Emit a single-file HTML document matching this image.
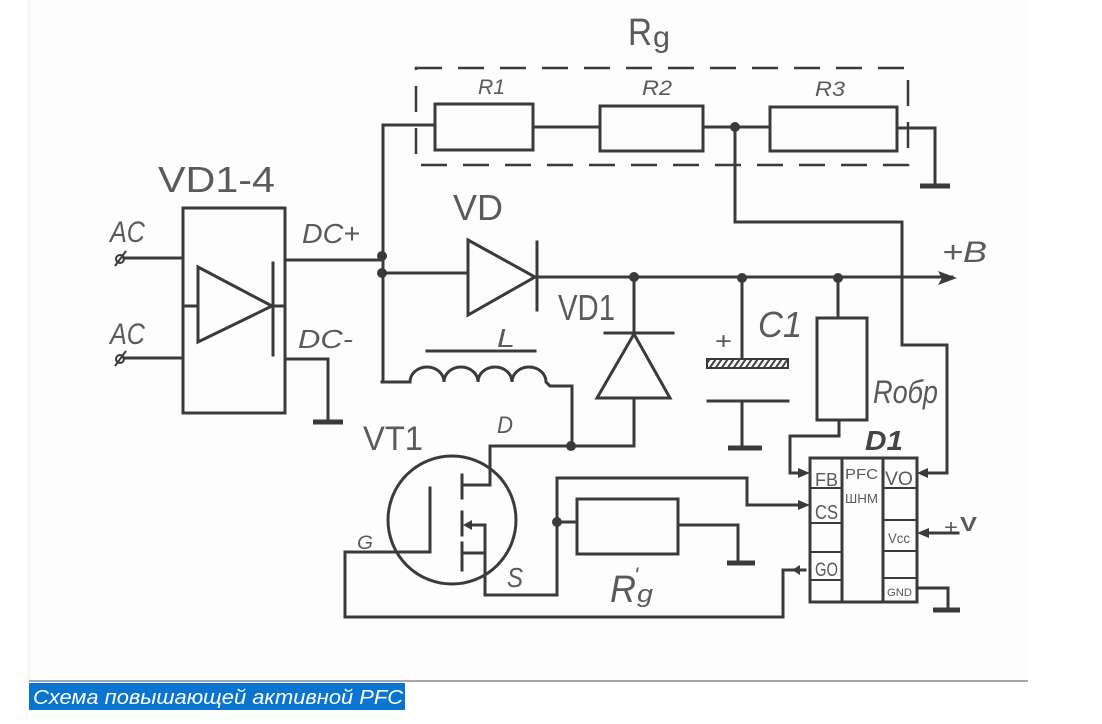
<!DOCTYPE html>
<html><head><meta charset="utf-8"><style>
html,body{margin:0;padding:0;background:#fff;}
svg{display:block;}
.w{fill:none;stroke:#3a3a3a;stroke-width:3;stroke-linejoin:miter;stroke-linecap:square;}
.t{font-family:"Liberation Sans","DejaVu Sans",sans-serif;fill:#5a5a5a;}
.g{stroke:#3a3a3a;stroke-width:5;}
</style></head><body>
<svg width="1102" height="724" viewBox="0 0 1102 724" xmlns="http://www.w3.org/2000/svg">
<defs>
<pattern id="hatch" patternUnits="userSpaceOnUse" width="6" height="10" patternTransform="skewX(-35)">
<rect width="6" height="10" fill="#fff"/><rect width="2.5" height="10" fill="#444"/>
</pattern>
</defs>
<rect x="29" y="0" width="999" height="681" fill="#fdfdfd"/>
<line x1="29" y1="0" x2="29" y2="681" stroke="#eeeeee" stroke-width="1"/>
<line x1="29" y1="681" x2="1028" y2="681" stroke="#8a8a8a" stroke-width="1.5"/>

<!-- Rg dashed group -->
<rect x="416" y="68" width="492" height="97" fill="none" stroke="#3a3a3a" stroke-width="2.5" stroke-dasharray="26 16"/>
<text class="t" x="628" y="45" font-size="38" textLength="24" lengthAdjust="spacingAndGlyphs">R</text>
<text class="t" x="653" y="47" font-size="30" textLength="17" lengthAdjust="spacingAndGlyphs">g</text>
<text class="t" x="478" y="94" font-size="21" textLength="27" lengthAdjust="spacingAndGlyphs" font-style="italic">R1</text>
<text class="t" x="642" y="95" font-size="21" textLength="30" lengthAdjust="spacingAndGlyphs" font-style="italic">R2</text>
<text class="t" x="815" y="96" font-size="21" textLength="30" lengthAdjust="spacingAndGlyphs" font-style="italic">R3</text>

<path class="w" d="M383 382 V125 H435"/>
<rect class="w" x="435" y="104" width="98" height="46"/>
<path class="w" d="M533 127 H600"/>
<rect class="w" x="600" y="106" width="103" height="45"/>
<path class="w" d="M703 127 H770"/>
<rect class="w" x="770" y="107" width="127" height="44"/>
<path class="w" d="M897 128 H935 V185"/>
<line class="g" x1="920" y1="186" x2="950" y2="186"/>
<circle cx="735" cy="127" r="5" fill="#3a3a3a"/>
<path class="w" d="M735 127 V222 H902 V345 H947 V473 H925"/>
<polygon points="917,473 928,468 928,478" fill="#3a3a3a"/>

<!-- bridge -->
<text class="t" x="158" y="192" font-size="36" textLength="117" lengthAdjust="spacingAndGlyphs">VD1-4</text>
<rect class="w" x="183" y="208" width="102" height="205"/>
<path class="w" d="M198 267 L272 306 L198 342 Z"/>
<path class="w" d="M273 263 V355 M183 306 H198 M273 306 H285"/>
<text class="t" x="110" y="242" font-size="30" textLength="35" lengthAdjust="spacingAndGlyphs" font-style="italic">AC</text>
<text class="t" x="110" y="344" font-size="30" textLength="35" lengthAdjust="spacingAndGlyphs" font-style="italic">AC</text>
<circle cx="120" cy="259" r="4" fill="none" stroke="#3a3a3a" stroke-width="2"/>
<line x1="115" y1="266" x2="126" y2="251" stroke="#3a3a3a" stroke-width="2"/>
<circle cx="120" cy="359" r="4" fill="none" stroke="#3a3a3a" stroke-width="2"/>
<line x1="115" y1="366" x2="126" y2="351" stroke="#3a3a3a" stroke-width="2"/>
<path class="w" d="M124 258 H183 M124 358 H183"/>
<text class="t" x="302" y="243" font-size="28" textLength="58" lengthAdjust="spacingAndGlyphs" font-style="italic">DC+</text>
<text class="t" x="298" y="348" font-size="26" textLength="55" lengthAdjust="spacingAndGlyphs" font-style="italic">DC-</text>
<path class="w" d="M285 260 H382"/>
<path class="w" d="M285 359 H328 V420"/>
<line class="g" x1="313" y1="422" x2="343" y2="422"/>
<circle cx="382" cy="256" r="5" fill="#3a3a3a"/>
<circle cx="382" cy="273" r="5" fill="#3a3a3a"/>

<!-- VD -->
<text class="t" x="453" y="220" font-size="36" textLength="50" lengthAdjust="spacingAndGlyphs">VD</text>
<path class="w" d="M382 273 H468"/>
<path class="w" d="M468 240 L535 277 L468 315 Z"/>
<path class="w" d="M537 242 V310"/>
<path class="w" d="M537 277 H952"/>
<polygon points="957,278 938,271 942,278 938,285" fill="#3a3a3a"/>
<text class="t" x="942" y="262" font-size="30" textLength="45" lengthAdjust="spacingAndGlyphs" font-style="italic">+B</text>
<circle cx="634" cy="277" r="5" fill="#3a3a3a"/>
<circle cx="742" cy="278" r="5" fill="#3a3a3a"/>
<circle cx="838" cy="278" r="5" fill="#3a3a3a"/>

<!-- VD1 -->
<text class="t" x="558" y="320" font-size="36" textLength="57" lengthAdjust="spacingAndGlyphs">VD1</text>
<path class="w" d="M634 277 V333 M605 333 H673"/>
<path class="w" d="M634 334 L597 398 L670 398 Z"/>
<path class="w" d="M634 398 V446 H490 V485 H463"/>
<circle cx="571" cy="446" r="5" fill="#3a3a3a"/>

<!-- L -->
<text class="t" x="497" y="347" font-size="26" textLength="18" lengthAdjust="spacingAndGlyphs" font-style="italic">L</text>
<path class="w" d="M427 351 H535"/>
<path class="w" d="M382 382 H410 A17 15 0 0 1 444 382 A17 15 0 0 1 478 382 A17 15 0 0 1 512 382 A17 15 0 0 1 546 382 L550 386 H572 V446"/>

<!-- VT1 -->
<text class="t" x="363" y="450" font-size="34" textLength="60" lengthAdjust="spacingAndGlyphs">VT1</text>
<text class="t" x="497" y="433" font-size="24" textLength="16" lengthAdjust="spacingAndGlyphs" font-style="italic">D</text>
<circle cx="452" cy="520" r="64" fill="none" stroke="#3a3a3a" stroke-width="3"/>
<path class="w" d="M430 488 V552 H345 V617 H783 V570 H805"/>
<polygon points="792,570 800,565 800,575" fill="#3a3a3a"/>
<text class="t" x="357" y="549" font-size="19" textLength="16" lengthAdjust="spacingAndGlyphs" font-style="italic">G</text>
<path class="w" d="M462 475 V498 M462 512 V535 M462 543 V570"/>
<path class="w" d="M470 525 H485 V553 H462"/>
<polygon points="463,525 472,520 472,530" fill="#3a3a3a"/>
<path class="w" d="M485 553 V595 H557 V478 H747 V505 H800"/>
<polygon points="810,505 798,500 798,510" fill="#3a3a3a"/>
<text class="t" x="507" y="587" font-size="28" textLength="16" lengthAdjust="spacingAndGlyphs" font-style="italic">S</text>
<circle cx="557" cy="522" r="5" fill="#3a3a3a"/>

<!-- R'g -->
<path class="w" d="M557 522 H577"/>
<rect class="w" x="577" y="499" width="101" height="55"/>
<path class="w" d="M678 525 H738 V563"/>
<line class="g" x1="727" y1="563" x2="755" y2="563"/>
<text class="t" x="610" y="602" font-size="38" textLength="26" lengthAdjust="spacingAndGlyphs" font-style="italic">R</text>
<text class="t" x="634" y="583" font-size="22" font-style="italic">'</text>
<text class="t" x="637" y="602" font-size="24" textLength="16" lengthAdjust="spacingAndGlyphs" font-style="italic">g</text>

<!-- C1 -->
<path class="w" d="M742 278 V359"/>
<rect x="707" y="359" width="81" height="9" fill="url(#hatch)" stroke="#3a3a3a" stroke-width="2"/>
<path class="w" d="M708 401 H788 M742 401 V448"/>
<line class="g" x1="728" y1="448" x2="762" y2="448"/>
<text class="t" x="715" y="349" font-size="24" textLength="17" lengthAdjust="spacingAndGlyphs">+</text>
<text class="t" x="758" y="337" font-size="36" textLength="44" lengthAdjust="spacingAndGlyphs" font-style="italic">C1</text>

<!-- Robr -->
<path class="w" d="M838 278 V318"/>
<rect class="w" x="817" y="318" width="50" height="102"/>
<path class="w" d="M839 420 V436 H790 V473 H800"/>
<polygon points="810,473 798,468 798,478" fill="#3a3a3a"/>
<text class="t" x="873" y="403" font-size="32" textLength="65" lengthAdjust="spacingAndGlyphs" font-style="italic">Rобр</text>

<!-- D1 -->
<text x="865" y="450" font-family="Liberation Sans, sans-serif" font-size="28" font-weight="bold" font-style="italic" fill="#444" textLength="38" lengthAdjust="spacingAndGlyphs">D1</text>
<rect class="w" x="810" y="458" width="107" height="144"/>
<path class="w" d="M842 458 V602 M883 458 V602"/>
<path d="M810 488 H842 M810 523 H842 M810 552 H842 M810 580 H842 M883 488 H917 M883 520 H917 M883 551 H917 M883 578 H917" stroke="#3a3a3a" stroke-width="2" fill="none"/>
<text class="t" x="815" y="486" font-size="18" textLength="23" lengthAdjust="spacingAndGlyphs">FB</text>
<text class="t" x="815" y="519" font-size="20" textLength="23" lengthAdjust="spacingAndGlyphs">CS</text>
<text class="t" x="815" y="576" font-size="19" textLength="23" lengthAdjust="spacingAndGlyphs">GO</text>
<text class="t" x="845" y="479" font-size="15" textLength="33" lengthAdjust="spacingAndGlyphs">PFC</text>
<text class="t" x="845" y="503" font-size="13" textLength="33" lengthAdjust="spacingAndGlyphs">ШНМ</text>
<text class="t" x="885" y="485" font-size="19" textLength="28" lengthAdjust="spacingAndGlyphs">VO</text>
<text class="t" x="888" y="543" font-size="14" textLength="22" lengthAdjust="spacingAndGlyphs">Vcc</text>
<text class="t" x="887" y="596" font-size="11" textLength="25" lengthAdjust="spacingAndGlyphs">GND</text>
<path class="w" d="M958 533 H927"/>
<polygon points="917,533 929,528 929,538" fill="#3a3a3a"/>
<text class="t" x="944" y="534" font-size="20" textLength="14" lengthAdjust="spacingAndGlyphs">+</text>
<text class="t" x="960" y="531" font-size="20" textLength="17" lengthAdjust="spacingAndGlyphs" font-weight="bold">V</text>
<path class="w" d="M917 588 H948 V610"/>
<line class="g" x1="933" y1="610" x2="960" y2="610"/>

<!-- caption -->
<rect x="29" y="683" width="376" height="27" fill="#0a74d1"/>
<text x="33" y="704" font-family="Liberation Sans, sans-serif" font-size="20" font-style="italic" fill="#fff" textLength="370" lengthAdjust="spacingAndGlyphs">Схема повышающей активной PFC</text>
</svg>
</body></html>
